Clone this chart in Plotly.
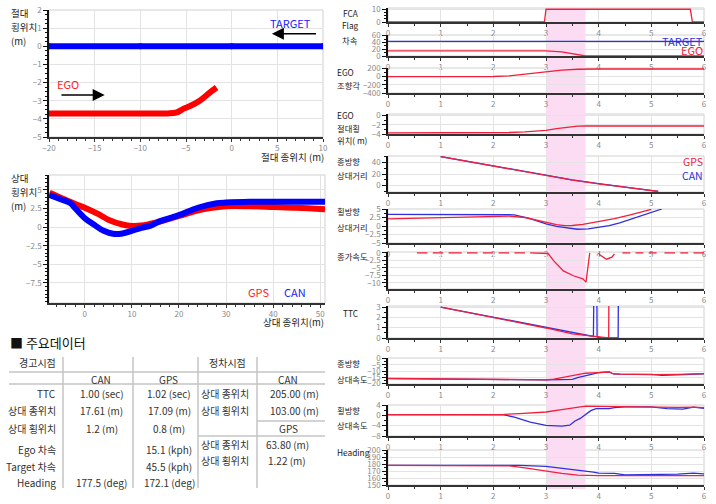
import plotly.graph_objects as go

W, H = 716, 504
RED = "#f0203c"
BLUE = "#2f2fe0"
FONT = "Noto Sans CJK KR"

# ---- left top: absolute position ----
target_abs_x = [-20, -10, 0, 10]
target_abs_y = [0, 0, 0, 0]
ego_abs_x = [-20, -10, -7, -6, -5.3, -4.5, -3.5, -2.4, -1.65]
ego_abs_y = [-3.7, -3.7, -3.7, -3.64, -3.45, -3.28, -3.0, -2.55, -2.27]

# ---- left middle: relative position ----
gps_rel_x = [-7.5, -5, -2, 0, 3, 5, 8, 10, 12, 15, 20, 25, 30, 35, 40, 45, 51]
gps_rel_y = [4.6, 3.9, 3.1, 2.6, 1.7, 1.0, 0.35, 0.15, 0.2, 0.6, 1.5, 2.4, 2.8, 2.8, 2.7, 2.6, 2.4]
can_rel_x = [-7.5, -5, -3, -2, 0, 2, 4, 6, 8, 10, 12, 14, 16, 20, 24, 28, 30, 35, 40, 51]
can_rel_y = [4.3, 3.7, 3.2, 2.5, 1.2, 0.3, -0.5, -0.9, -0.85, -0.5, -0.1, 0.2, 0.8, 1.6, 2.6, 3.2, 3.3, 3.4, 3.4, 3.4]

# ---- right column: time series ----
fca_t = [0, 2.97, 3.0, 5.74, 5.78, 6]
fca_v = [0, 0, 10, 10, 0, 0]

target_spd_t = [0, 6]
target_spd_v = [43, 43]
ego_spd_t = [0, 1, 2, 2.9, 3.0, 3.3, 3.5, 3.7, 3.75, 4, 5, 6]
ego_spd_v = [15.2, 15.2, 15.1, 15.1, 15.0, 12, 7, 1.5, 0, 0, 0, 0]

steer_t = [0, 1, 2, 2.3, 2.6, 3.0, 3.3, 3.6, 3.75, 4, 5, 6]
steer_v = [0, 0, 2, 20, 60, 120, 160, 180, 185, 185, 185, 185]

ego_lat_t = [0, 1, 2, 2.3, 2.6, 3.0, 3.2, 3.4, 3.6, 3.75, 4, 5, 6]
ego_lat_v = [-3.75, -3.75, -3.72, -3.68, -3.55, -3.22, -2.85, -2.5, -2.3, -2.28, -2.28, -2.28, -2.28]

long_dist_gps_t = [1, 2, 3, 3.5, 4, 4.5, 5, 5.13]
long_dist_gps_v = [50, 33.5, 17, 9.5, 3, -2.5, -8, -10]
long_dist_can_t = [1, 2, 3, 3.5, 4, 4.5, 5, 5.13]
long_dist_can_v = [50, 33.8, 17.3, 10, 3.4, -2.2, -7.8, -10]

lat_dist_gps_t = [0, 1, 2, 2.3, 2.6, 2.8, 3.0, 3.2, 3.35, 3.5, 3.7, 4.0, 4.3, 4.6, 5.0]
lat_dist_gps_v = [2.1, 2.5, 2.9, 2.9, 2.5, 1.8, 0.9, 0.4, 0.1, 0.15, 0.5, 1.3, 2.2, 3.3, 4.9]
lat_dist_can_t = [0, 1, 2, 2.4, 2.7, 3.0, 3.2, 3.4, 3.6, 3.8, 4.0, 4.2, 4.4, 4.6, 4.8, 5.0, 5.2]
lat_dist_can_v = [3.4, 3.4, 3.4, 3.3, 2.2, 0.6, -0.1, -0.6, -0.95, -0.85, -0.4, 0.1, 0.9, 1.9, 2.8, 3.9, 5.0]

acc_t = [0.55, 0.75, None, 0.85, 1.05, None, 1.15, 1.4, None, 1.5, 1.7, None, 1.8, 2.0, None,
         2.1, 2.3, None, 2.4, 2.6, None, 2.7, 2.95, 3.04, 3.14, 3.2, 3.33, 3.52, 3.7, 3.76, 3.78,
         3.8, 3.83, None, 4.0, 4.02, 4.15, 4.25, 4.3, None, 4.45, 4.6, None, 4.7, 4.85, None,
         4.95, 5.1, None, 5.25, 5.45, None, 5.55, 5.7, None, 5.8, 6.0]
acc_v = [0, 0, None, 0, 0, None, 0, 0, None, 0, 0, None, 0, 0, None,
         0, 0, None, 0, 0, None, 0, 0, -0.2, -2.5, -3.6, -6, -7.6, -8.6, -9.7, -7,
         -2.5, 0, None, 0, -0.6, -2.1, -1.4, -0.3, None, 0, 0, None, 0, 0, None,
         0, 0, None, 0, 0, None, 0, 0, None, 0, 0]

ttc_gps_t = [1, 2, 3, 3.5, 4.0, 4.15, 4.19, 4.2, 6]
ttc_gps_v = [3, 2, 0.97, 0.4, 0.1, 0, 0, 10, 10]
ttc_can_t = [1, 2, 3, 3.5, 3.9, 3.92, 3.96, 3.97, 4.05, 4.37, 4.38, 6]
ttc_can_v = [3, 2, 1.0, 0.5, 0.15, 10, 10, 0.1, 0, 0, 10, 10]

long_spd_gps_t = [0, 1, 2, 3, 3.15, 3.3, 3.45, 3.6, 3.75, 4.0, 4.2, 4.28, 4.4, 5.0, 5.3, 5.5, 6.0]
long_spd_gps_v = [-16, -16.5, -17.2, -17.1, -16.5, -15.2, -13.8, -12.6, -11.8, -11.3, -10.8, -12.4, -12.6, -13, -13.2, -12.8, -12.2]
long_spd_can_t = [0, 1, 2, 3, 3.3, 3.5, 3.6, 3.7, 3.8, 4.0, 4.2, 4.28, 4.4, 5.0, 5.2, 5.35, 5.5, 6.0]
long_spd_can_v = [-16.2, -16.7, -17.3, -17.2, -17.0, -16.8, -15.3, -14.2, -13.4, -11.3, -10.8, -12.4, -12.6, -12.8, -13.5, -13.3, -12.8, -12.3]

lat_spd_gps_t = [0, 1, 2, 2.2, 2.5, 2.8, 3.0, 3.3, 3.6, 3.75, 4.0, 4.5, 5.0, 5.5, 5.8, 6.0]
lat_spd_gps_v = [0.3, 0.3, 0.3, 0.35, 0.7, 1.0, 1.3, 2.2, 3.2, 3.6, 3.5, 3.3, 3.3, 3.1, 3.2, 3.0]
lat_spd_can_t = [0, 1, 2, 2.2, 2.4, 2.7, 3.0, 3.3, 3.45, 3.55, 3.65, 3.75, 3.85, 3.95, 4.2, 4.3, 4.5, 5.0, 5.3, 5.6, 5.8, 6.0]
lat_spd_can_v = [0.3, 0.3, 0.3, 0.2, -0.7, -2.6, -3.9, -4.2, -3.8, -2.2, -1.2, 0.2, 1.8, 2.6, 2.6, 3.0, 3.3, 3.3, 2.6, 2.4, 3.2, 2.7]

heading_gps_t = [0, 1, 2, 2.3, 2.6, 3.0, 3.3, 3.6, 3.8, 4, 5, 6]
heading_gps_v = [178, 177.8, 178, 177.2, 174.5, 169.5, 166.5, 164, 163.5, 163.5, 163.5, 163.5]
heading_can_t = [0, 1, 2, 2.5, 3.0, 3.3, 3.6, 3.9, 4.0, 4.3, 4.5, 5.0, 5.5, 5.8, 6.0]
heading_can_v = [178, 177.8, 178, 178, 176.5, 174, 171.5, 168.5, 167, 166.5, 164.5, 164.5, 165.5, 167, 166]

warn_start, warn_end = 3.0, 3.75

# ---- table ----
table_cols = ["", "CAN", "GPS"]
table_rows = ["TTC", "상대 종위치", "상대 횡위치", "Ego 차속", "Target 차속", "Heading"]
table_can = ["1.00 (sec)", "17.61 (m)", "1.2 (m)", "", "", "177.5 (deg)"]
table_gps = ["1.02 (sec)", "17.09 (m)", "0.8 (m)", "15.1 (kph)", "45.5 (kph)", "172.1 (deg)"]
stop_can_rows = ["상대 종위치", "상대 횡위치"]
stop_can_vals = ["205.00 (m)", "103.00 (m)"]
stop_gps_rows = ["상대 종위치", "상대 횡위치"]
stop_gps_vals = ["63.80 (m)", "1.22 (m)"]


def fx(p):
    return p / W


def fy(p):
    return 1 - p / H


fig = go.Figure()
layout = dict(width=W, height=H, margin=dict(l=0, r=0, t=0, b=0, autoexpand=False),
              paper_bgcolor="white", plot_bgcolor="rgba(0,0,0,0)", template="none",
              showlegend=False, font=dict(family=FONT, size=10, color="#222"))
annotations = []
shapes = []

tickfont = dict(family=FONT, size=8, color="#8a8a8a")


def xaxis_style(dom, rng, dtick, minor_dtick, anchor):
    return dict(domain=dom, range=rng, dtick=dtick, tick0=0, anchor=anchor, automargin=False,
                showline=True, linecolor="#333", linewidth=1.5,
                ticks="outside", ticklen=3, tickcolor="#333", tickfont=tickfont,
                showgrid=True, gridcolor="#e3e3e3", gridwidth=1, zeroline=False,
                minor=dict(dtick=minor_dtick, ticks="outside", ticklen=2, tickcolor="#333", showgrid=False))


def yaxis_style(dom, rng, tickvals, minor_dtick, anchor):
    return dict(domain=dom, range=rng, tickvals=tickvals, anchor=anchor, automargin=False,
                showline=True, linecolor="#111", linewidth=1.5,
                ticks="outside", ticklen=4, tickcolor="#111", tickfont=tickfont,
                showgrid=True, gridcolor="#e3e3e3", gridwidth=1, zeroline=False,
                minor=dict(dtick=minor_dtick, ticks="outside", ticklen=2, tickcolor="#111", showgrid=False))


def frame(n):
    shapes.append(dict(type="rect", xref=f"x{n} domain", yref=f"y{n} domain",
                       x0=0, x1=1, y0=0, y1=1, line=dict(color="#d0d0d0", width=1), layer="below"))


def note(x, y, text, size, color="#222", xanchor="center", align="center"):
    annotations.append(dict(x=fx(x), y=fy(y), xref="paper", yref="paper", xanchor=xanchor,
                            yanchor="middle", text=text, showarrow=False, align=align,
                            font=dict(size=size, color=color)))


# left top
layout["xaxis"] = xaxis_style([fx(49), fx(323)], [-20, 10], 5, 1, "y")
layout["yaxis"] = yaxis_style([fy(137), fy(10)], [-5, 2], [-5, -4, -3, -2, -1, 0, 1, 2], 0.25, "x")
frame("")
fig.add_trace(go.Scatter(x=target_abs_x, y=target_abs_y, mode="lines+markers",
                         line=dict(color="#0000ff", width=6), marker=dict(color="#0000ff", size=6),
                         xaxis="x", yaxis="y"))
fig.add_trace(go.Scatter(x=ego_abs_x, y=ego_abs_y, mode="lines",
                         line=dict(color="#ff0000", width=6, shape="spline"), xaxis="x", yaxis="y"))
annotations += [
    dict(x=6.4, y=1.3, xref="x", yref="y", text="TARGET", showarrow=False,
         font=dict(size=11, color="#2020ff")),
    dict(x=4.4, y=0.69, ax=9.4, ay=0.69, xref="x", yref="y", axref="x", ayref="y", text="",
         showarrow=True, arrowhead=2, arrowsize=1.6, arrowwidth=1.5, arrowcolor="black"),
    dict(x=-17.9, y=-2.1, xref="x", yref="y", text="EGO", showarrow=False,
         font=dict(size=11, color="#ff2020")),
    dict(x=-13.9, y=-2.69, ax=-18.8, ay=-2.69, xref="x", yref="y", axref="x", ayref="y", text="",
         showarrow=True, arrowhead=2, arrowsize=1.6, arrowwidth=1.5, arrowcolor="black"),
]
for txt, yy in zip(["절대", "횡위치", "(m)"], [13, 27, 41]):
    note(9, yy, txt, 9.5, xanchor="left")
note(326, 157, "절대 종위치 (m)", 9.5, xanchor="right")

# left middle
layout["xaxis2"] = xaxis_style([fx(49), fx(325)], [-7.6, 51], 10, 2, "y2")
layout["yaxis2"] = yaxis_style([fy(303), fy(175)], [-10.2, 7], [-7.5, -5, -2.5, 0, 2.5, 5], 0.5, "x2")
frame(2)
fig.add_trace(go.Scatter(x=gps_rel_x, y=gps_rel_y, mode="lines",
                         line=dict(color="#ff0000", width=6, shape="spline"), xaxis="x2", yaxis="y2"))
fig.add_trace(go.Scatter(x=can_rel_x, y=can_rel_y, mode="lines",
                         line=dict(color="#0000ff", width=6, shape="spline"), xaxis="x2", yaxis="y2"))
note(258, 292, "GPS", 11, "#ff2020")
note(295, 292, "CAN", 11, "#2020ff")
for txt, yy in zip(["상대", "횡위치", "(m)"], [178, 192, 206]):
    note(9, yy, txt, 9.5, xanchor="left")
note(326, 322, "상대 종위치(m)", 9.5, xanchor="right")

# right column panels: (label lines, label y px, left-aligned?, top px, bottom px, range, tickvals, minor)
panels = [
    (["FCA", "Flag"], [13, 25], False, 8, 22, [0, 11], [0, 10], 2.5),
    (["차속"], [40], False, 35, 56, [0, 62], [0, 20, 40, 60], 10),
    (["EGO", "조향각"], [72, 85], True, 68, 93, [-400, 210], [-400, -200, 0, 200], 100),
    (["EGO", "절대횡", "위치( m)"], [115, 128, 140], True, 114, 134, [-4, 0.3], [-4, -2, 0], 1),
    (["종방향", "상대거리"], [161, 175], True, 156, 192, [-11, 51], [0, 20, 40], 10),
    (["횡방향", "상대거리"], [211, 227], True, 209, 243, [-5, 5], [-5, -2.5, 0, 2.5, 5], 1.25),
    (["종가속도"], [256], True, 252, 289, [-12, 0.3], [-10, -7.5, -5, -2.5, 0], 1.25),
    (["TTC"], [313], False, 306, 338, [0, 3.1], [0, 1, 2, 3], 0.5),
    (["종방향", "상대속도"], [363, 379], True, 358, 384, [-20.5, 0.5], [-20, -15, -10, -5, 0], 2.5),
    (["횡방향", "상대속도"], [410, 425], True, 405, 436, [-8, 4], [-8, -4, 0, 4], 2),
    (["Heading"], [452], True, 450, 485, [150, 200], [150, 160, 170, 180, 190, 200], 5),
]

series = [
    [(fca_t, fca_v, RED)],
    [(target_spd_t, target_spd_v, BLUE), (ego_spd_t, ego_spd_v, RED)],
    [(steer_t, steer_v, RED)],
    [(ego_lat_t, ego_lat_v, RED)],
    [(long_dist_can_t, long_dist_can_v, BLUE), (long_dist_gps_t, long_dist_gps_v, RED)],
    [(lat_dist_can_t, lat_dist_can_v, BLUE), (lat_dist_gps_t, lat_dist_gps_v, RED)],
    [(acc_t, acc_v, RED)],
    [(ttc_can_t, ttc_can_v, BLUE), (ttc_gps_t, ttc_gps_v, RED)],
    [(long_spd_can_t, long_spd_can_v, BLUE), (long_spd_gps_t, long_spd_gps_v, RED)],
    [(lat_spd_can_t, lat_spd_can_v, BLUE), (lat_spd_gps_t, lat_spd_gps_v, RED)],
    [(heading_can_t, heading_can_v, BLUE), (heading_gps_t, heading_gps_v, RED)],
]

for i, (labels, label_y, left, top, bottom, rng, tv, mdt) in enumerate(panels):
    n = i + 3
    layout[f"xaxis{n}"] = xaxis_style([fx(388), fx(704)], [0, 6], 1, 0.5, f"y{n}")
    layout[f"yaxis{n}"] = yaxis_style([fy(bottom), fy(top)], rng, tv, mdt, f"x{n}")
    frame(n)
    for t, v, c in series[i]:
        fig.add_trace(go.Scatter(x=t, y=v, mode="lines", line=dict(color=c, width=1.3),
                                 connectgaps=False, xaxis=f"x{n}", yaxis=f"y{n}"))
    for txt, yy in zip(labels, label_y):
        if left:
            note(335, yy, txt, 8.3, xanchor="left")
        else:
            note(350, yy, txt, 8.3)

# speed / distance legends
note(705, 41, "TARGET", 11, BLUE, xanchor="right")
note(705, 50, "EGO", 11, RED, xanchor="right")
note(705, 162, "GPS", 10.5, RED, xanchor="right")
note(705, 175, "CAN", 10.5, BLUE, xanchor="right")

# warning band across the right column
shapes.append(dict(type="rect", xref="x3", yref="paper", x0=warn_start, x1=warn_end,
                   y0=fy(489), y1=fy(8), fillcolor="#fbdcf2", line=dict(width=0), layer="below"))

# ---- key data table ----
note(8, 342, "■ 주요데이터", 13, "#111", xanchor="left")


def cell(x, y, text, anchor="center"):
    note(x, y, text, 10, "#333", xanchor=anchor)


cell(37, 362, "경고시점")
cell(227, 362, "정차시점")
cell(101, 379, table_cols[1])
cell(168, 379, table_cols[2])
cell(288, 379, "CAN")
cell(288, 428, "GPS")
row_y = [393, 410, 428, 449, 466, 482]
for r, yy in enumerate(row_y):
    cell(58, yy, table_rows[r], "right")
    if table_can[r]:
        cell(102, yy, table_can[r])
    cell(169, yy, table_gps[r])
for r, yy in enumerate([393, 410]):
    cell(225, yy, stop_can_rows[r])
    cell(294, yy, stop_can_vals[r])
for r, yy in enumerate([444, 460]):
    cell(225, yy, stop_gps_rows[r])
    cell(287, yy, stop_gps_vals[r])

grey = "#c4c4c4"
for y0, x0, x1 in [(372, 9, 325), (384, 9, 325), (421, 257, 325), (436, 198, 325)]:
    shapes.append(dict(type="line", xref="paper", yref="paper", x0=fx(x0), x1=fx(x1),
                       y0=fy(y0), y1=fy(y0), line=dict(color=grey, width=1.5)))
for xx in [63, 133, 198, 257]:
    shapes.append(dict(type="line", xref="paper", yref="paper", x0=fx(xx), x1=fx(xx),
                       y0=fy(357), y1=fy(488), line=dict(color=grey, width=1.5)))

layout["annotations"] = annotations
layout["shapes"] = shapes
fig.update_layout(**layout)
fig.write_html("out.html", config={"displayModeBar": False},
               post_script="document.body.style.margin='0';")
